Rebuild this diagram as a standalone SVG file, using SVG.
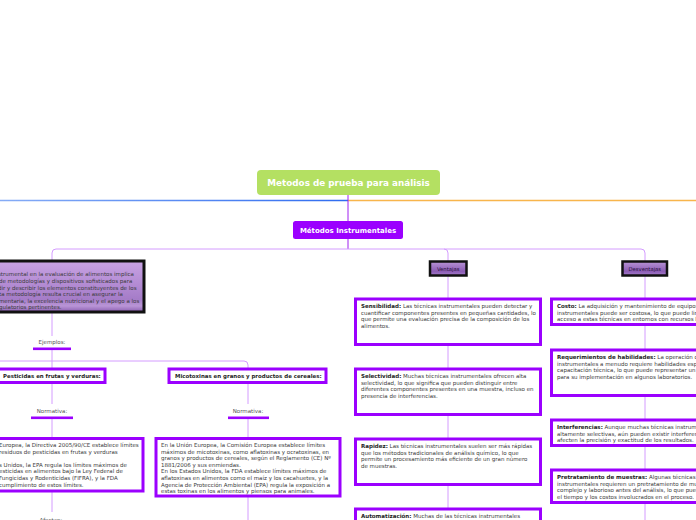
<svg xmlns="http://www.w3.org/2000/svg" width="696" height="520" viewBox="0 0 696 520">
<defs>
<linearGradient id="blueG" gradientUnits="userSpaceOnUse" x1="0" y1="200" x2="348" y2="200"><stop offset="0" stop-color="#86acf6"/><stop offset="1" stop-color="#2f6cf0"/></linearGradient>
<linearGradient id="purpG" x1="0" y1="0" x2="0" y2="1"><stop offset="0" stop-color="#c9a3e4"/><stop offset="0.75" stop-color="#a57cc8"/><stop offset="0.88" stop-color="#b995d6"/><stop offset="1" stop-color="#8a5db0"/></linearGradient>
<linearGradient id="tagG" x1="0" y1="0" x2="0" y2="1"><stop offset="0" stop-color="#b894d6"/><stop offset="0.7" stop-color="#8c5cb4"/><stop offset="1" stop-color="#a47ccc"/></linearGradient>
<style>
.t{font-family:"DejaVu Sans","Liberation Sans",sans-serif;font-size:5.5px;fill:#3a3a3a}
.b{font-weight:bold;fill:#1e1e1e}
.lbl{font-family:"DejaVu Sans","Liberation Sans",sans-serif;font-size:5.5px;fill:#555}
.hd{font-family:"DejaVu Sans","Liberation Sans",sans-serif;font-size:5.45px;font-weight:bold;fill:#1e1e1e}
.box{fill:#fff;stroke:#9b00ff;stroke-width:3}
.tag{fill:url(#tagG);stroke:#111;stroke-width:2.5}
.tagt{font-family:"DejaVu Sans","Liberation Sans",sans-serif;font-size:5.3px;fill:#2a1040;text-anchor:middle}
.c{fill:none;stroke:#d49cff;stroke-width:1}
.ul{fill:#9b00ff}
</style>
</defs>

<g id="connectors">
<path d="M0,200.5 H348" stroke="url(#blueG)" stroke-width="1.5" fill="none"/>
<path d="M348,200.5 H696" stroke="#f8b54c" stroke-width="1.5" fill="none"/>
<path d="M348,195 V221" stroke="#a020f0" stroke-width="1" fill="none"/>
<path d="M348,239 V249" stroke="#a020f0" stroke-width="1" fill="none"/>
<path class="c" d="M52,260 V253 Q52,249 56,249 H641 Q645,249 645,253 V261" stroke="#c98cff"/>
<path class="c" d="M444,249 Q448,249 448,253 V261"/>
<path class="c" d="M52,313 V336"/>
<path class="c" d="M52,350 V368"/>
<path class="c" d="M0,361 H244 Q248,361 248,365 V368"/>
<path class="c" d="M52,383 V404"/>
<path class="c" d="M248,383 V404"/>
<path class="c" d="M52,419 V437"/>
<path class="c" d="M248,419 V437"/>
<path class="c" d="M52,492 V512"/>
<path class="c" d="M248,497 V520"/>
<path class="c" d="M448,276 V298"/>
<path class="c" d="M448,345 V368"/>
<path class="c" d="M448,415 V438"/>
<path class="c" d="M448,485 V508"/>
<path class="c" d="M645,276 V298"/>
<path class="c" d="M645,325 V349"/>
<path class="c" d="M645,396 V419"/>
<path class="c" d="M645,446 V469"/>
<path class="c" d="M645,503 V520"/>
</g>

<g id="root">
<rect x="257" y="170" width="183" height="25" rx="4" fill="#b4e062"/>
<text x="348.5" y="186.2" text-anchor="middle" font-family="'DejaVu Sans','Liberation Sans',sans-serif" font-size="8.8" font-weight="bold" fill="#fff">Metodos de prueba para análisis</text>
</g>

<g id="metodos-instrumentales">
<rect x="293" y="221" width="110" height="18" rx="2.5" fill="#9b00ff"/>
<text x="348" y="232.7" text-anchor="middle" font-family="'DejaVu Sans','Liberation Sans',sans-serif" font-size="7" font-weight="bold" fill="#fff">Métodos Instrumentales</text>
</g>

<g id="descripcion">
<rect x="-45" y="261" width="189" height="51" fill="url(#purpG)" stroke="#111" stroke-width="3"/>
<text class="t" fill="#2a1a3a">
<tspan x="-2" y="276">strumental en la evaluación de alimentos implica</tspan>
<tspan x="-1" y="283">de metodologías y dispositivos sofisticados para</tspan>
<tspan x="-2" y="289.5">dir y describir los elementos constituyentes de los</tspan>
<tspan x="-1" y="296">ta metodología resulta crucial en asegurar la</tspan>
<tspan x="-1" y="302.5">mentaria, la excelencia nutricional y el apego a los</tspan>
<tspan x="-1" y="309">gulatorios pertinentes.</tspan>
</text>
</g>

<g id="ejemplos">
<text class="lbl" x="52" y="343.5" text-anchor="middle">Ejemplos:</text>
<rect class="ul" x="33" y="347.5" width="38" height="2.6"/>
</g>

<g id="pesticidas">
<rect class="box" x="-10" y="369" width="115" height="13.5"/>
<text class="hd" x="3" y="378">Pesticidas en frutas y verduras:</text>
</g>

<g id="micotoxinas">
<rect class="box" x="169" y="369" width="157" height="13.5"/>
<text class="hd" x="175" y="378">Micotoxinas en granos y productos de cereales:</text>
</g>

<g id="normativa-1">
<text class="lbl" x="52" y="412.5" text-anchor="middle">Normativa:</text>
<rect class="ul" x="31" y="416.5" width="42" height="2.6"/>
</g>

<g id="normativa-2">
<text class="lbl" x="248" y="412.5" text-anchor="middle">Normativa:</text>
<rect class="ul" x="228" y="416.5" width="41" height="2.6"/>
</g>

<g id="normativa-pesticidas">
<rect class="box" x="-45" y="438.5" width="188" height="52.5"/>
<text class="t">
<tspan x="-1" y="447">Europea, la Directiva 2005/90/CE establece límites</tspan>
<tspan x="-1" y="453.6">residuos de pesticidas en frutas y verduras</tspan>
<tspan x="-1" y="466.8">s Unidos, la EPA regula los límites máximos de</tspan>
<tspan x="-1" y="473.4">esticidas en alimentos bajo la Ley Federal de</tspan>
<tspan x="-1" y="480">Fungicidas y Rodenticidas (FIFRA), y la FDA</tspan>
<tspan x="-1" y="486.6">cumplimiento de estos límites.</tspan>
</text>
</g>

<g id="normativa-micotoxinas">
<rect class="box" x="156" y="438.5" width="184" height="57.5"/>
<text class="t">
<tspan x="161" y="447">En la Unión Europea, la Comisión Europea establece límites</tspan>
<tspan x="161" y="453.6">máximos de micotoxinas, como aflatoxinas y ocratoxinas, en</tspan>
<tspan x="161" y="460.2">granos y productos de cereales, según el Reglamento (CE) Nº</tspan>
<tspan x="161" y="466.8">1881/2006 y sus enmiendas.</tspan>
<tspan x="161" y="473.4">En los Estados Unidos, la FDA establece límites máximos de</tspan>
<tspan x="161" y="480">aflatoxinas en alimentos como el maíz y los cacahuetes, y la</tspan>
<tspan x="161" y="486.6">Agencia de Protección Ambiental (EPA) regula la exposición a</tspan>
<tspan x="161" y="493.2">estas toxinas en los alimentos y piensos para animales.</tspan>
</text>
</g>

<g id="afectan">
<text class="lbl" x="51" y="521.5" text-anchor="middle">Afectan:</text>
</g>

<g id="ventajas">
<rect class="tag" x="430" y="261.5" width="36.5" height="14"/>
<text class="tagt" x="448.2" y="270.5">Ventajas</text>
</g>

<g id="desventajas">
<rect class="tag" x="622.5" y="261.5" width="44.5" height="14"/>
<text class="tagt" x="644.8" y="270.5">Desventajas</text>
</g>

<g id="sensibilidad">
<rect class="box" x="355.5" y="299" width="185" height="45.5"/>
<text class="t"><tspan x="361" y="308"><tspan class="b">Sensibilidad:</tspan> Las técnicas instrumentales pueden detectar y</tspan>
<tspan x="361" y="314.6">cuantificar componentes presentes en pequeñas cantidades, lo</tspan>
<tspan x="361" y="321.2">que permite una evaluación precisa de la composición de los</tspan>
<tspan x="361" y="327.8">alimentos.</tspan></text>
</g>

<g id="selectividad">
<rect class="box" x="355.5" y="369" width="185" height="45.5"/>
<text class="t"><tspan x="361" y="378"><tspan class="b">Selectividad:</tspan> Muchas técnicas instrumentales ofrecen alta</tspan>
<tspan x="361" y="384.6">selectividad, lo que significa que pueden distinguir entre</tspan>
<tspan x="361" y="391.2">diferentes componentes presentes en una muestra, incluso en</tspan>
<tspan x="361" y="397.8">presencia de interferencias.</tspan></text>
</g>

<g id="rapidez">
<rect class="box" x="355.5" y="439" width="185" height="45.5"/>
<text class="t"><tspan x="361" y="448"><tspan class="b">Rapidez:</tspan> Las técnicas instrumentales suelen ser más rápidas</tspan>
<tspan x="361" y="454.6">que los métodos tradicionales de análisis químico, lo que</tspan>
<tspan x="361" y="461.2">permite un procesamiento más eficiente de un gran número</tspan>
<tspan x="361" y="467.8">de muestras.</tspan></text>
</g>

<g id="automatizacion">
<rect class="box" x="355.5" y="509" width="185" height="45.5"/>
<text class="t"><tspan x="361" y="518"><tspan class="b">Automatización:</tspan> Muchas de las técnicas instrumentales</tspan></text>
</g>

<g id="costo">
<rect class="box" x="551.5" y="299" width="200" height="25.5"/>
<text class="t"><tspan x="557" y="308"><tspan class="b">Costo:</tspan> La adquisición y mantenimiento de equipos</tspan>
<tspan x="557" y="314.6">instrumentales puede ser costosa, lo que puede limitar el</tspan>
<tspan x="557" y="321.2">acceso a estas técnicas en entornos con recursos limitados.</tspan></text>
</g>

<g id="requerimientos">
<rect class="box" x="551.5" y="350" width="200" height="45.5"/>
<text class="t"><tspan x="557" y="359"><tspan class="b">Requerimientos de habilidades:</tspan> La operación de equipos</tspan>
<tspan x="557" y="365.6">instrumentales a menudo requiere habilidades especializadas y</tspan>
<tspan x="557" y="372.2">capacitación técnica, lo que puede representar un desafío</tspan>
<tspan x="557" y="378.8">para su implementación en algunos laboratorios.</tspan></text>
</g>

<g id="interferencias">
<rect class="box" x="551.5" y="420" width="200" height="25.5"/>
<text class="t"><tspan x="557" y="429"><tspan class="b">Interferencias:</tspan> Aunque muchas técnicas instrumentales son</tspan>
<tspan x="557" y="435.6">altamente selectivas, aún pueden existir interferencias que</tspan>
<tspan x="557" y="442.2">afecten la precisión y exactitud de los resultados.</tspan></text>
</g>

<g id="pretratamiento">
<rect class="box" x="551.5" y="470" width="200" height="32.5"/>
<text class="t"><tspan x="557" y="479"><tspan class="b">Pretratamiento de muestras:</tspan> Algunas técnicas</tspan>
<tspan x="557" y="485.6">instrumentales requieren un pretratamiento de muestras</tspan>
<tspan x="557" y="492.2">complejo y laborioso antes del análisis, lo que puede aumentar</tspan>
<tspan x="557" y="498.8">el tiempo y los costos involucrados en el proceso.</tspan></text>
</g>
</svg>
